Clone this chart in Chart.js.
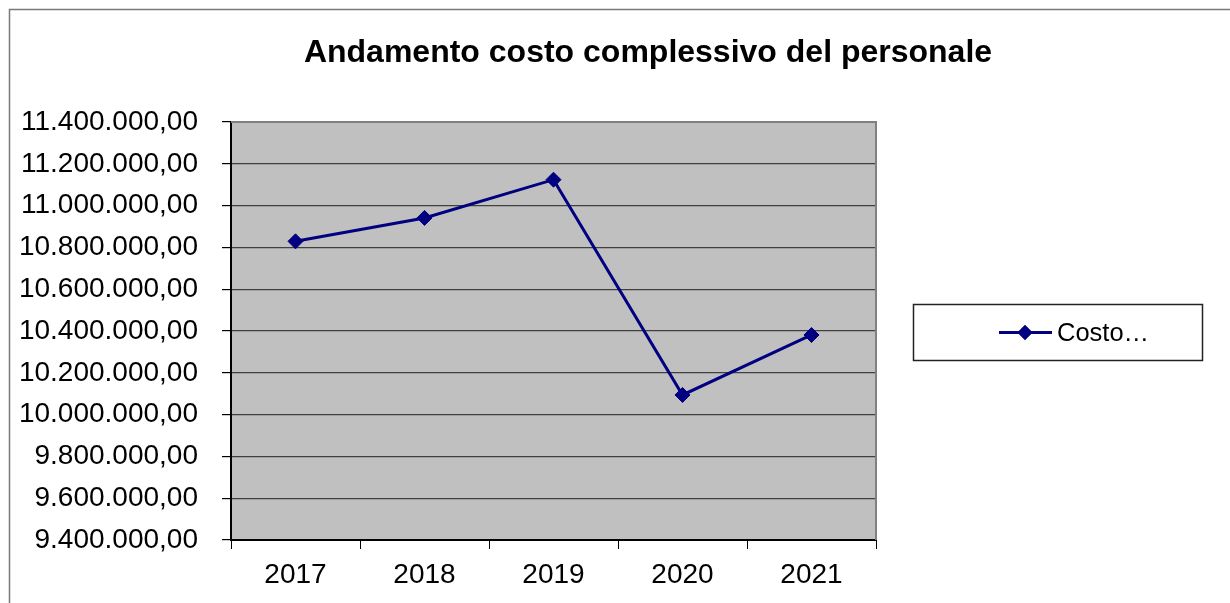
<!DOCTYPE html>
<html>
<head>
<meta charset="utf-8">
<script src="https://cdn.jsdelivr.net/npm/chart.js@4/dist/chart.umd.min.js"></script>
<style>
  html, body { margin: 0; padding: 0; background: #fff; }
</style>
</head>
<body>
<canvas id="cost-chart" width="1230" height="603"></canvas>
<script>
const years = ['2017', '2018', '2019', '2020', '2021'];
const costValues = [10829000, 10941000, 11124000, 10094000, 10381000];
const seriesLabel = 'Costo…';
const chartTitle = 'Andamento costo complessivo del personale';
const yMin = 9400000;
const yMax = 11400000;
const yStep = 200000;

const lineColor = '#000080';
const fontName = '"Liberation Sans", Arial, sans-serif';

// 11400000 -> "11.400.000,00"
function itNumber(v){
  var parts = Number(v).toFixed(2).split('.');
  return parts[0].replace(/\B(?=(\d{3})+(?!\d))/g, '.') + ',' + parts[1];
}

const backdrop = {
  id: 'backdrop',
  afterLayout(chart){
    // the spreadsheet centres its title on the whole frame, a bit right of the canvas centre
    if (chart.titleBlock) {
      chart.titleBlock.left += 33;
      chart.titleBlock.right += 33;
    }
  },
  beforeDraw(chart){
    const ctx = chart.ctx, a = chart.chartArea;
    ctx.save();
    ctx.fillStyle = '#fff';
    ctx.fillRect(0, 0, chart.width, chart.height);
    // outer frame
    ctx.strokeStyle = '#7a7a7a';
    ctx.lineWidth = 1.5;
    ctx.strokeRect(9.5, 9.5, chart.width + 20, chart.height + 20);
    // plot area
    ctx.fillStyle = '#c0c0c0';
    ctx.fillRect(a.left, a.top, a.right - a.left, a.bottom - a.top);
    ctx.restore();
  },
  beforeDatasetsDraw(chart){
    const ctx = chart.ctx, a = chart.chartArea;
    ctx.save();
    ctx.strokeStyle = '#808080';
    ctx.lineWidth = 2;
    ctx.beginPath();
    ctx.moveTo(a.left, a.top);
    ctx.lineTo(a.right, a.top);
    ctx.lineTo(a.right, a.bottom);
    ctx.stroke();
    ctx.restore();
  }
};

// boxed legend with line + diamond, like the spreadsheet one
const boxLegend = {
  id: 'boxLegend',
  afterDraw(chart){
    const ctx = chart.ctx;
    const ds = chart.data.datasets[0];
    const bx = 913.5, by = 304.5, bw = 289, bh = 56;
    const cy = by + bh / 2;
    ctx.save();
    ctx.strokeStyle = '#222';
    ctx.lineWidth = 1.5;
    ctx.strokeRect(bx, by, bw, bh);
    ctx.strokeStyle = ds.borderColor;
    ctx.lineWidth = 2.8;
    ctx.beginPath();
    ctx.moveTo(999, cy);
    ctx.lineTo(1052, cy);
    ctx.stroke();
    ctx.fillStyle = ds.pointBackgroundColor;
    Chart.helpers.drawPoint(ctx, {pointStyle: 'rectRot', radius: 7.5, borderWidth: 0}, 1025, cy);
    ctx.fill();
    ctx.fillStyle = '#000';
    ctx.font = '25.5px ' + fontName;
    ctx.textBaseline = 'middle';
    ctx.fillText(ds.label, 1057, cy + 1);
    ctx.restore();
  }
};

const data = {
  labels: years,
  datasets: [{
    label: seriesLabel,
    data: costValues,
    borderColor: lineColor,
    backgroundColor: lineColor,
    pointBackgroundColor: lineColor,
    pointBorderColor: lineColor,
    borderWidth: 3,
    pointStyle: 'rectRot',
    pointRadius: 7.5,
    pointBorderWidth: 1,
    tension: 0
  }]
};

const config = {
  type: 'line',
  data: data,
  options: {
    responsive: false,
    animation: false,
    layout: {
      padding: { left: 0, right: 0, top: 0, bottom: 0 }
    },
    plugins: {
      legend: { display: false },
      tooltip: { enabled: false },
      title: {
        display: true,
        text: chartTitle,
        color: '#000',
        font: { family: fontName, size: 32, weight: 'bold' },
        padding: { top: 34, bottom: 49.6 }
      }
    },
    scales: {
      x: {
        offset: true,
        afterFit: function(s){ s.height = 63; },
        grid: {
          offset: true,
          drawOnChartArea: false,
          tickColor: '#000',
          tickLength: 9
        },
        border: { color: '#000', width: 2 },
        ticks: {
          color: '#000',
          padding: 9,
          font: { family: fontName, size: 28 }
        }
      },
      y: {
        min: yMin,
        max: yMax,
        afterFit: function(s){ s.width = 231; },
        grid: {
          color: '#404040',
          lineWidth: 1.2,
          tickColor: '#000',
          tickLength: 9
        },
        border: { color: '#000', width: 2 },
        ticks: {
          stepSize: yStep,
          color: '#000',
          padding: 24,
          font: { family: fontName, size: 28 },
          callback: function(value){ return itNumber(value); }
        }
      },
      // empty axis on the right, reserves room for the legend box
      yRight: {
        position: 'right',
        min: yMin,
        max: yMax,
        afterFit: function(s){ s.width = 354; },
        grid: { display: false, drawOnChartArea: false },
        border: { display: false },
        ticks: { display: false }
      }
    }
  },
  plugins: [backdrop, boxLegend]
};

const myChart = new Chart(document.getElementById('cost-chart'), config);
</script>
</body>
</html>
